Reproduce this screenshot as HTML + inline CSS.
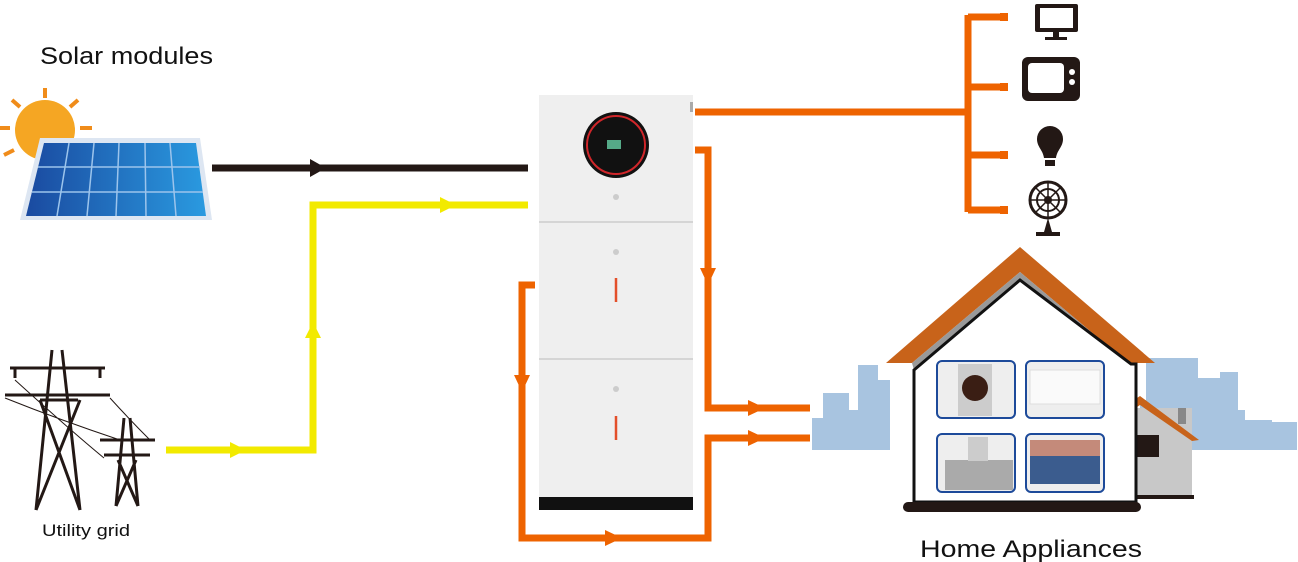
<!DOCTYPE html>
<html><head><meta charset="utf-8"><style>
html,body{margin:0;padding:0;background:#fff;width:1298px;height:562px;overflow:hidden}
svg{display:block}
text{font-family:"Liberation Sans",sans-serif}
</style></head><body>
<svg width="1298" height="562" viewBox="0 0 1298 562" xmlns="http://www.w3.org/2000/svg">
<defs><linearGradient id="pv" x1="0" x2="1" y1="0" y2="0"><stop offset="0" stop-color="#1a4aa0"/><stop offset="1" stop-color="#2a9ae0"/></linearGradient></defs>
<!-- skyline -->
<g fill="#a8c4e0">
<path d="M812 450 L812 418 L823 418 L823 393 L849 393 L849 410 L858 410 L858 365 L878 365 L878 380 L890 380 L890 450 Z"/>
<path d="M1140 450 L1140 400 L1146 400 L1146 358 L1198 358 L1198 378 L1220 378 L1220 372 L1238 372 L1238 410 L1245 410 L1245 420 L1272 420 L1272 422 L1297 422 L1297 450 Z"/>
</g>
<!-- small house -->
<rect x="1137" y="408" width="55" height="90" fill="#c8c8c8"/>
<rect x="1137" y="435" width="22" height="22" fill="#231815"/>
<rect x="1178" y="408" width="8" height="16" fill="#888"/>
<path d="M1137 398 L1140 396 L1199 440 L1192 441 L1140 405 L1137 407 Z" fill="#c8631a"/>
<rect x="1137" y="495" width="57" height="4" fill="#231815"/>
<!-- main house -->
<path d="M1020 247 L886 363 L912 363 L1020 272 L1128 363 L1155 363 Z" fill="#c8631a"/>
<path d="M1020 272 L912 363 L914 370 L1020 280 L1126 370 L1128 363 Z" fill="#999"/>
<path d="M914 370 L1020 280 L1131 364 L1136 364 L1136 502 L914 502 Z" fill="#fff" stroke="#111" stroke-width="3"/>
<rect x="903" y="502" width="238" height="10" rx="5" fill="#231815"/>
<g fill="#eee" stroke="#1d4a9a" stroke-width="2">
<rect x="937" y="361" width="78" height="57" rx="5"/>
<rect x="1026" y="361" width="78" height="57" rx="5"/>
<rect x="937" y="434" width="78" height="58" rx="5"/>
<rect x="1026" y="434" width="78" height="58" rx="5"/>
</g>
<rect x="958" y="364" width="34" height="52" fill="#ccc"/><circle cx="975" cy="388" r="13" fill="#3a1e14"/>
<rect x="1030" y="370" width="70" height="34" fill="#fafafa" stroke="#ddd"/>
<rect x="945" y="460" width="68" height="30" fill="#aaa"/><rect x="968" y="437" width="20" height="24" fill="#ccc"/>
<rect x="1030" y="440" width="70" height="44" fill="#3b5c8e"/><rect x="1030" y="440" width="70" height="16" fill="#c48a7a"/>
<!-- inverter -->
<rect x="539" y="95" width="154" height="415" fill="#efefef"/>
<line x1="539" y1="222" x2="693" y2="222" stroke="#bbb" stroke-width="1"/>
<line x1="539" y1="359" x2="693" y2="359" stroke="#bbb" stroke-width="1"/>
<rect x="539" y="497" width="154" height="13" fill="#111"/>
<rect x="690" y="102" width="3" height="10" fill="#aaa"/>
<circle cx="616" cy="145" r="33" fill="#111"/>
<circle cx="616" cy="145" r="29" fill="none" stroke="#d0262a" stroke-width="2"/>
<rect x="607" y="140" width="14" height="9" fill="#5a8"/>
<g fill="#ccc"><circle cx="616" cy="197" r="3"/><circle cx="616" cy="252" r="3"/><circle cx="616" cy="389" r="3"/></g>
<g stroke="#e34f2a" stroke-width="2.5"><line x1="616" y1="278" x2="616" y2="302"/><line x1="616" y1="416" x2="616" y2="440"/></g>
<!-- orange lines -->
<g fill="none" stroke="#ee6300" stroke-width="7">
<path d="M695 112 L968 112"/>
<path d="M968 15 L968 212"/>
<path d="M968 17 L1002 17 M968 87 L1002 87 M968 155 L1002 155 M968 210 L1002 210"/>
<path d="M695 150 L708 150 L708 408 L810 408"/>
<path d="M535 285 L522 285 L522 538 L708 538 L708 438 L810 438"/>
</g>
<g fill="#ee6300">
<rect x="1000" y="13" width="8" height="8"/><rect x="1000" y="83" width="8" height="8"/><rect x="1000" y="151" width="8" height="8"/><rect x="1000" y="206" width="8" height="8"/>
<path d="M700 268 L716 268 L708 285 Z"/>
<path d="M514 375 L530 375 L522 392 Z"/>
<path d="M605 530 L605 546 L622 538 Z"/>
<path d="M748 400 L748 416 L765 408 Z"/>
<path d="M748 430 L748 446 L765 438 Z"/>
</g>
<!-- appliances icons -->
<g fill="#231815">
<rect x="1035" y="4" width="43" height="28" rx="2"/><rect x="1040" y="8" width="33" height="20" fill="#fff"/>
<rect x="1053" y="32" width="6" height="5"/><rect x="1045" y="37" width="22" height="3"/>
<rect x="1022" y="57" width="58" height="44" rx="6"/><rect x="1028" y="63" width="36" height="30" rx="4" fill="#fff"/>
<circle cx="1072" cy="72" r="3" fill="#fff"/><circle cx="1072" cy="82" r="3" fill="#fff"/>
<path d="M1050 126 A13 13 0 0 1 1063 139 C1063 147 1057 150 1056 158 L1044 158 C1043 150 1037 147 1037 139 A13 13 0 0 1 1050 126 Z"/>
<rect x="1045" y="160" width="10" height="6"/>
<circle cx="1048" cy="200" r="18" fill="none" stroke="#231815" stroke-width="3"/>
<circle cx="1048" cy="200" r="11" fill="none" stroke="#231815" stroke-width="2"/>
<g stroke="#231815" stroke-width="1.5"><line x1="1030" y1="200" x2="1066" y2="200"/><line x1="1048" y1="182" x2="1048" y2="218"/><line x1="1035" y1="187" x2="1061" y2="213"/><line x1="1061" y1="187" x2="1035" y2="213"/></g>
<circle cx="1048" cy="200" r="4"/>
<path d="M1048 218 L1044 232 L1036 232 L1036 236 L1060 236 L1060 232 L1052 232 Z"/>
</g>
<!-- solar -->
<g stroke="#f08c1a" stroke-width="4">
<line x1="45" y1="88" x2="45" y2="98"/><line x1="12" y1="100" x2="20" y2="107"/><line x1="0" y1="128" x2="10" y2="128"/><line x1="4" y1="155" x2="14" y2="150"/><line x1="78" y1="100" x2="70" y2="107"/><line x1="92" y1="128" x2="80" y2="128"/>
</g>
<circle cx="45" cy="130" r="30" fill="#f5a623"/>
<path d="M40 138 L200 138 L212 220 L20 220 Z" fill="#dde6f2"/>
<path d="M44 143 L196 143 L206 216 L26 216 Z" fill="url(#pv)"/>
<g stroke="#9cc4ec" stroke-width="1.5">
<line x1="38" y1="167" x2="200" y2="167"/><line x1="32" y1="192" x2="203" y2="192"/>
<line x1="69" y1="143" x2="57" y2="216"/><line x1="94" y1="143" x2="87" y2="216"/><line x1="119" y1="143" x2="116" y2="216"/><line x1="145" y1="143" x2="146" y2="216"/><line x1="170" y1="143" x2="176" y2="216"/>
</g>
<!-- black line -->
<line x1="212" y1="168" x2="528" y2="168" stroke="#231815" stroke-width="7"/>
<path d="M310 159 L310 177 L326 168 Z" fill="#231815"/>
<!-- yellow line -->
<path d="M166 450 L313 450 L313 205 L528 205" fill="none" stroke="#f2ea00" stroke-width="7"/>
<g fill="#f2ea00"><path d="M230 442 L230 458 L246 450 Z"/><path d="M305 338 L321 338 L313 322 Z"/><path d="M440 197 L440 213 L456 205 Z"/></g>
<!-- towers -->
<g stroke="#231815" stroke-width="3" fill="none">
<path d="M52 350 L36 510 M62 350 L80 510 M36 510 L80 400 M80 510 L40 400 M40 400 L78 400"/>
<path d="M10 368 L105 368 M5 395 L110 395 M15 368 L15 378 M100 368 L100 378"/>
<path d="M124 418 L116 506 M130 418 L138 506 M116 506 L136 460 M138 506 L118 460"/>
<path d="M100 440 L155 440 M104 455 L150 455"/>
</g>
<g stroke="#231815" stroke-width="1" fill="none">
<path d="M5 398 Q60 420 120 440 M110 398 Q130 420 150 440 M15 380 Q70 430 104 458"/>
</g>
<text x="40" y="64" font-size="24" fill="#111" textLength="173" lengthAdjust="spacingAndGlyphs">Solar modules</text>
<text x="42" y="536" font-size="17" fill="#111" textLength="88" lengthAdjust="spacingAndGlyphs">Utility grid</text>
<text x="920" y="557" font-size="24" fill="#111" textLength="222" lengthAdjust="spacingAndGlyphs">Home Appliances</text>
</svg>
</body></html>
